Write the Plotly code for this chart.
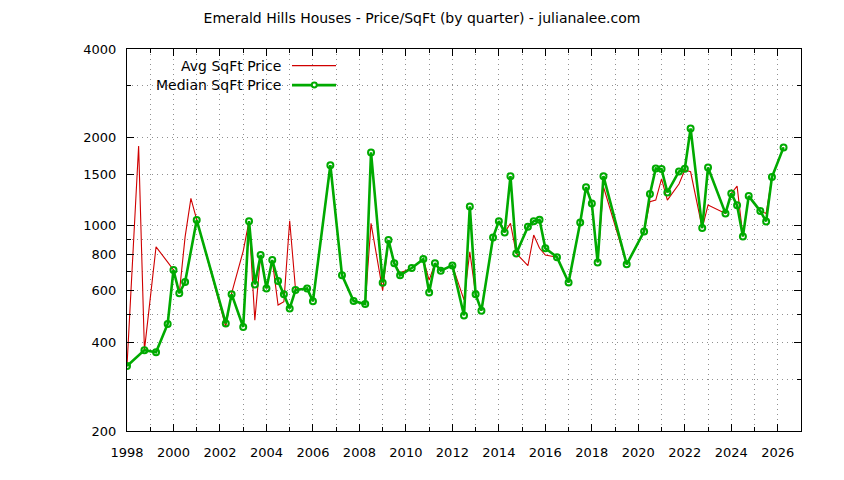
import plotly.graph_objects as go

# quarter positions (year + fraction), union of both series
quarters = [
    1998.0, 1998.5, 1998.75, 1999.25, 1999.75, 2000.0, 2000.25, 2000.5, 2000.75, 2001.0,
    2002.25, 2002.5, 2003.0, 2003.25, 2003.5, 2003.75, 2004.0, 2004.25, 2004.5, 2004.75,
    2005.0, 2005.25, 2005.75, 2006.0, 2006.75, 2007.25, 2007.75, 2008.25, 2008.5, 2009.0,
    2009.25, 2009.5, 2009.75, 2010.25, 2010.75, 2011.0, 2011.25, 2011.5, 2012.0, 2012.5,
    2012.75, 2013.0, 2013.25, 2013.75, 2014.0, 2014.25, 2014.5, 2014.75, 2015.25, 2015.5,
    2015.75, 2016.0, 2016.5, 2017.0, 2017.5, 2017.75, 2018.0, 2018.25, 2018.5, 2019.5,
    2020.25, 2020.5, 2020.75, 2021.0, 2021.25, 2021.75, 2022.0, 2022.25, 2022.75, 2023.0,
    2023.75, 2024.0, 2024.25, 2024.5, 2024.75, 2025.25, 2025.5, 2025.75, 2026.25,
]

avg_price = [
    333, 1868, 377, 848, 752, 707, 589, 917, 1240, 1046,
    453, 589, 820, 1037, 477, 795, 612, 764, 537, 551,
    1040, 608, 612, 553, 1609, 679, 554, 541, 1019, 601,
    894, 745, 690, 718, 770, 653, 745, 703, 733, 559,
    816, 584, 514, 913, 1037, 949, 1019, 805, 731, 930,
    838, 795, 782, 641, 1027, 1354, 1191, 750, 1358, 739,
    957, 1207, 1223, 1445, 1223, 1387, 1548, 1527, 982, 1176,
    1102, 1289, 1365, 920, 1262, 1122, 1102, 1465, 1849,
]

median_price = [
    333, None, 377, 371, 463, 707, 589, 643, None, 1046,
    465, 585, 452, 1037, 631, 795, 612, 764, 648, 585,
    523, 604, 612, 553, 1609, 679, 554, 541, 1778, 640,
    894, 745, 678, 718, 770, 593, 745, 703, 733, 495,
    1164, 584, 514, 913, 1037, 949, 1476, 805, 992, 1037,
    1048, 839, 782, 641, 1027, 1354, 1191, 750, 1476, 739,
    957, 1282, 1568, 1560, 1299, 1531, 1563, 2145, 982, 1580,
    1102, 1289, 1174, 920, 1262, 1122, 1035, 1465, 1849,
]

x_ticks = list(range(1998, 2027, 2))
x_minor = list(range(1998, 2028))
y_ticks = [200, 400, 600, 800, 1000, 1500, 2000, 4000]
y_minor = [300, 500, 700, 900, 3000]

FONT = "DejaVu Sans"
RED = "#d00000"
GREEN = "#00aa00"
GRID = "#909090"
GRID_DASH = "1px,4px"

fig = go.Figure()

fig.add_trace(go.Scatter(
    x=quarters, y=avg_price, mode="lines", name="Avg SqFt Price",
    line=dict(color=RED, width=1.1), connectgaps=True, showlegend=False,
))
fig.add_trace(go.Scatter(
    x=quarters, y=median_price, mode="lines+markers", name="Median SqFt Price",
    line=dict(color=GREEN, width=2.6), connectgaps=True, showlegend=False,
    marker=dict(symbol="circle-open", size=6, color=GREEN, line=dict(width=2, color=GREEN)),
))

axis_common = dict(
    showline=True, linecolor="black", linewidth=1, mirror="ticks",
    ticks="inside", tickcolor="black", ticklen=7, tickwidth=1,
    showgrid=True, gridcolor=GRID, gridwidth=1, griddash=GRID_DASH,
    zeroline=False, tickfont=dict(family=FONT, size=13, color="black"),
)

fig.update_xaxes(
    range=[1998, 2027], tickmode="array", tickvals=x_ticks,
    minor=dict(tickmode="array", tickvals=x_minor, ticks="inside", ticklen=4,
               tickcolor="black", showgrid=True, gridcolor=GRID, griddash=GRID_DASH),
    ticklabelstandoff=9,
    **axis_common,
)
fig.update_yaxes(
    type="log", range=[2.30103, 3.60206], tickmode="array", tickvals=y_ticks,
    ticktext=[str(v) for v in y_ticks],
    minor=dict(tickmode="array", tickvals=y_minor, ticks="inside", ticklen=4,
               tickcolor="black", showgrid=True, gridcolor=GRID, griddash=GRID_DASH),
    ticklabelstandoff=7,
    **axis_common,
)

# gnuplot-style key: opaque area, text right-aligned, sample after text
fig.add_shape(type="rect", xref="paper", yref="paper", x0=0.0015, x1=0.325, y0=0.875, y1=0.998,
              fillcolor="white", line=dict(width=0), layer="between")
key_rows = [("Avg SqFt Price", RED, 1.1, 0.9566, False),
            ("Median SqFt Price", GREEN, 2.6, 0.9055, True)]
for label, color, width, ky, with_marker in key_rows:
    fig.add_annotation(x=0.232, y=ky, xref="paper", yref="paper", text=label,
                       showarrow=False, xanchor="right", yanchor="middle",
                       font=dict(family=FONT, size=14, color="black"))
    fig.add_shape(type="line", xref="paper", yref="paper", x0=0.2448, x1=0.3101, y0=ky, y1=ky,
                  line=dict(color=color, width=width))
    if with_marker:
        fig.add_shape(type="circle", xref="paper", yref="paper",
                      x0=0.2779 - 0.0037, x1=0.2779 + 0.0037, y0=ky - 0.0065, y1=ky + 0.0065,
                      line=dict(color=GREEN, width=2), fillcolor="white")

# page body adds an 8px offset, so margins are shifted to keep the plot frame in place
fig.update_layout(
    width=844, height=480,
    margin=dict(l=119, r=51, t=41, b=57),
    paper_bgcolor="white", plot_bgcolor="white",
    title=dict(text="Emerald Hills Houses - Price/SqFt (by quarter) - julianalee.com",
               x=0.4905, xanchor="center", y=0.979, yanchor="middle", yref="container",
               font=dict(family=FONT, size=14, color="black")),
    font=dict(family=FONT, size=13, color="black"),
)

fig.write_html("out.html")
